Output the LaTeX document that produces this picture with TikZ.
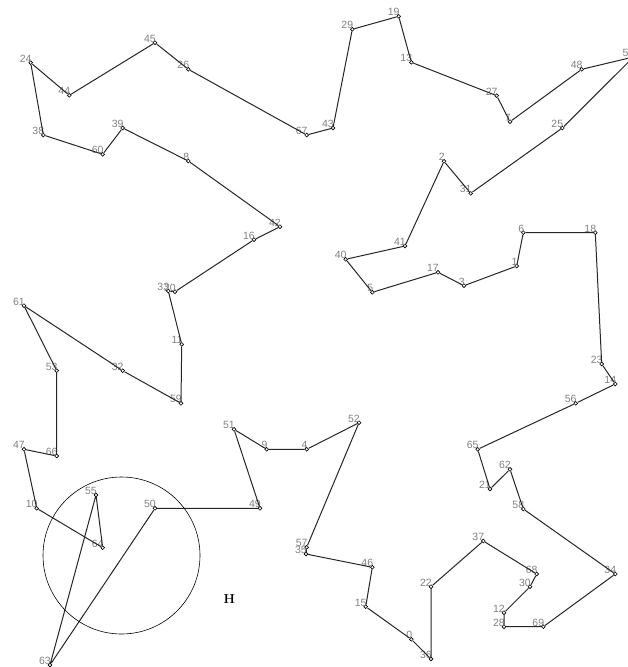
\documentclass[tikz,border=0pt]{standalone}
\usepackage{fontspec}
\setmainfont{Liberation Sans}
\newfontfamily\hfont{Latin Modern Roman}
\begin{document}
\begin{tikzpicture}[x=1pt,y=-1pt,
  pt/.style={circle,draw=black,fill=white,line width=0.6pt,inner sep=0pt,minimum size=3.8pt},
  lbl/.style={anchor=base east,inner sep=0pt,text=black!50,font=\fontsize{10.5}{12}\selectfont},
  tour/.style={draw=black!85,line width=1pt,line join=round},
  ring/.style={circle,draw=black,line width=0.6pt,inner sep=0pt,minimum size=157pt}]
\useasboundingbox (0,0) rectangle (628,667);
\foreach \n/\x/\y in {0/411.3/639.3,1/516.7/266,2/444/161.3,3/464/285.7,4/306.7/449.3,
  5/372.3/292.3,6/523.3/232.7,7/510/121.7,8/188.3/161,9/266.7/449.3,10/36.7/508.3,
  11/181.7/344.3,12/504/612.7,13/411.3/62.3,14/615.3/384,15/365.7/606.7,16/254/239.7,
  17/438/272.3,18/595.3/232.7,19/398.7/16.3,20/175/291.7,21/490/489,22/431/586.7,
  23/601.7/364,24/30.7/62.7,25/562.3/128,26/188.3/69.3,27/496.7/95.7,28/504/626.7,
  29/352.3/29.3,30/530/586.7,31/470.7/193.3,32/122.7/370.7,33/168.3/291,34/615.3/574,
  35/306/554,36/431/659,37/483.3/541,38/43.3/135,39/122.7/128,40/345.7/259.3,
  41/405/246,42/280/226.7,43/333/128,44/69.3/95.3,45/155/42.7,46/372.3/567.3,
  47/24/449.3,48/581.7/69.3,49/260/508.3,50/155/508.3,51/234/429.3,52/359/422.7,
  53/56.7/370.7,54/633.5/57,55/96/495,56/575.7/403.3,57/306.7/547.3,58/523.3/509,
  59/181/403.3,60/102.7/154.3,61/24/305.7,62/510/469.3,63/50/665,64/102.7/547.7,
  65/477.7/449.3,66/56.7/456,67/306.7/135,68/536.7/574,69/543.3/626.7}{
  \node[pt] (p\n) at (\x,\y) {};
  \node[lbl] (l\n) at (\x+1,\y-0.5) {\n};
}
\draw[tour] (p24) -- (p44) -- (p45) -- (p26) -- (p67) -- (p43) -- (p29) -- (p19)
  -- (p13) -- (p27) -- (p7) -- (p48) -- (p54) -- (p25) -- (p31) -- (p2) -- (p41)
  -- (p40) -- (p5) -- (p17) -- (p3) -- (p1) -- (p6) -- (p18) -- (p23) -- (p14)
  -- (p56) -- (p65) -- (p21) -- (p62) -- (p58) -- (p34) -- (p69) -- (p28) -- (p12)
  -- (p30) -- (p68) -- (p37) -- (p22) -- (p36) -- (p0) -- (p15) -- (p46) -- (p35)
  -- (p57) -- (p52) -- (p4) -- (p9) -- (p51) -- (p49) -- (p50) -- (p63) -- (p55)
  -- (p64) -- (p10) -- (p47) -- (p66) -- (p53) -- (p61) -- (p32) -- (p59) -- (p11)
  -- (p33) -- (p20) -- (p16) -- (p42) -- (p8) -- (p39) -- (p60) -- (p38) -- (p24);
\node[ring] (circ) at (121.5,555.5) {};
\node[font=\hfont\fontsize{13}{15}\selectfont\bfseries,inner sep=0pt] (H) at (229.3,599) {H};
\end{tikzpicture}
\end{document}
